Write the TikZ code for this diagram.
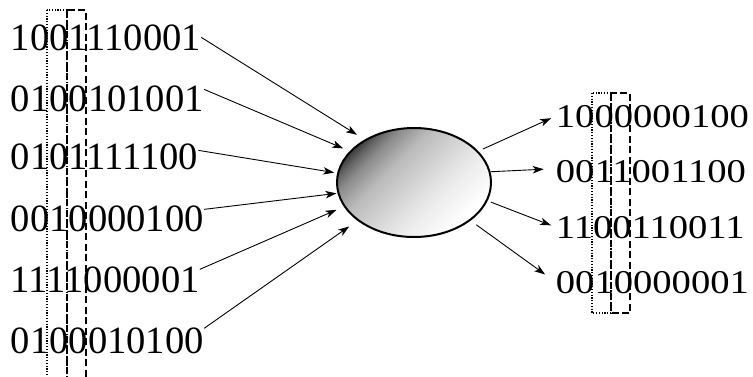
\documentclass[tikz,border=0pt]{standalone}
\usepackage{graphicx}
\usepackage{fontspec}
\setmainfont{Liberation Serif}
\usetikzlibrary{arrows.meta,shapes.geometric}
\newcommand{\squash}[1]{\scalebox{1}[0.86]{#1}}
\pgfdeclareverticalshading{blobshade}{100bp}{color(0bp)=(white); color(27bp)=(white);
  color(40bp)=(black!8); color(50bp)=(black!17); color(60bp)=(black!27);
  color(68bp)=(black!45); color(72bp)=(black!60); color(75bp)=(black!75); color(100bp)=(black!75)}

\begin{document}
\begin{tikzpicture}[x=1pt, y=-1pt,
  bits/.style={inner sep=0pt, anchor=base west, font=\fontsize{38.6pt}{40pt}\selectfont},
  arr/.style={-{Stealth[length=11pt,width=7.5pt,inset=3pt]}, line width=0.9pt},
  dotbox/.style={draw, line width=1.8pt, dash pattern=on 1.2pt off 1.6pt},
  dashbox/.style={draw, line width=1.8pt, dash pattern=on 7pt off 3.5pt}]
\useasboundingbox (0,0) rectangle (753,376);

% input words
\node[bits] (in1) at (10.7,50)  {1001110001};
\node[bits] (in2) at (10.7,111) {0100101001};
\node[bits] (in3) at (10.7,169) {0101111100};
\node[bits] (in4) at (10.7,231) {0010000100};
\node[bits] (in5) at (10.7,292) {1111000001};
\node[bits] (in6) at (10.7,353) {0100010100};

% cluster
\node[draw, ellipse, line width=2pt, minimum width=154pt, minimum height=109pt, inner sep=0pt,
  shading=blobshade, shading angle=45] (blob) at (414,182.5) {};

% output words
\node[bits] (out1) at (555.7,127) {\squash{1000000100}};
\node[bits] (out2) at (555.7,182.5) {\squash{0011001100}};
\node[bits] (out3) at (555.7,238) {\squash{1100110011}};
\node[bits] (out4) at (555.7,293) {\squash{0010000001}};

% inputs to cluster
\draw[arr, shorten >=9pt] (in1.east) -- (blob.139);
\draw[arr, shorten >=7pt] ([yshift=9pt]in2.east) -- (blob.154);
\draw[arr, shorten >=3pt] ([yshift=6pt]in3.east) -- (blob.173);
\draw[arr, shorten >=1pt] ([yshift=9pt]in4.east) -- (blob.188);
\draw[arr, shorten >=8pt] ([yshift=10pt]in5.east) -- (blob.199);
\draw[arr, shorten >=10pt] ([yshift=12pt]in6.east) -- (blob.214);

% cluster to outputs
\draw[arr, shorten <=5pt, shorten >=5pt] (blob.26) -- (out1.west);
\draw[arr, shorten >=12pt] (blob.8) -- ([yshift=3pt]out2.west);
\draw[arr, shorten <=3.5pt, shorten >=5pt] (blob.346) -- (out3.west);
\draw[arr, shorten <=7pt, shorten >=13pt] (blob.326) -- (out4.west);

% selected bit columns
\draw[dotbox] (47,10) rectangle (67,378);
\draw[dashbox] (67,10) rectangle (86,378);
\draw[dotbox] (592,93) rectangle (611,313);
\draw[dashbox] (611,93) rectangle (630,313);

\end{tikzpicture}
\end{document}
